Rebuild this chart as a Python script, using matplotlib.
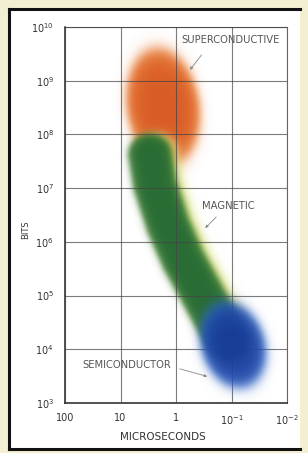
import numpy as np
import matplotlib
matplotlib.use("Agg")
import matplotlib.pyplot as plt
from matplotlib.colors import to_rgb
from matplotlib.lines import Line2D
from matplotlib.patches import Rectangle

plt.rcParams['font.family'] = ['DejaVu Sans']
plt.rcParams['mathtext.default'] = 'regular'

# tick values (log10 of microseconds and of bits)
time_ticks = [2, 1, 0, -1, -2]
time_labels = ["100", "10", "1", "$10^{-1}$", "$10^{-2}$"]
bits_ticks = [3, 4, 5, 6, 7, 8, 9, 10]
bits_labels = ["$10^{%d}$" % b for b in bits_ticks]

# elliptical regions: superconductive, semiconductor
blob_names = ["SUPERCONDUCTIVE", "SEMICONDUCTOR"]
blob_center_us = [1.7, 0.093]
blob_center_bits = [3.3e8, 1.2e4]
blob_half_decades_time = [0.66, 0.58]
blob_half_decades_bits = [1.1, 0.82]
blob_tilt_deg = [8, 16]
blob_inner = ["#d8551c", "#173c9c"]
blob_edge = ["#e8782f", "#2f62c4"]

# magnetic memory band (centre line)
magnetic_us = [2.94, 2.39, 1.39, 0.74, 0.37, 0.19, 0.12]
magnetic_bits = [4.2e7, 1.15e7, 2.05e6, 4.6e5, 1.26e5, 3.5e4, 1.5e4]
magnetic_half_width = 0.40  # decades
magnetic_inner = "#216832"
magnetic_edge = "#c9d65e"

fig = plt.figure(figsize=(3.08, 4.53), dpi=100)
fig.patch.set_facecolor("#f3efd3")

# white panel with black border (left, top, bottom)
fig.add_artist(Rectangle((9 / 308, 1 - 449 / 453), 291 / 308, 440 / 453,
                         transform=fig.transFigure, facecolor="white",
                         edgecolor="none", zorder=0))
bw = 2.2
fig.add_artist(Line2D([9 / 308, 300 / 308], [1 - 9 / 453] * 2, color="#111", lw=bw))
fig.add_artist(Line2D([9 / 308, 300 / 308], [1 - 449 / 453] * 2, color="#111", lw=bw))
fig.add_artist(Line2D([9 / 308] * 2, [1 - 9 / 453, 1 - 449 / 453], color="#111", lw=bw))

ax = fig.add_axes([65 / 308, 1 - 403 / 453, 222 / 308, 376 / 453])
ax.set_facecolor("none")

# sampling grid in log space
gx = np.linspace(-2, 2, 500)
gy = np.linspace(3, 10, 900)
X, Y = np.meshgrid(gx, gy)


def shade(d, inner, edge, soft=0.07, amax=0.96):
    a = amax / (1 + np.exp((d - 1) / soft))
    t = np.clip(d, 0, 1) ** 3
    ci, ce = np.array(to_rgb(inner)), np.array(to_rgb(edge))
    rgb = ci[None, None, :] * (1 - t[..., None]) + ce[None, None, :] * t[..., None]
    return np.dstack([rgb, a])


def ellipse_dist(i):
    cx, cy = np.log10(blob_center_us[i]), np.log10(blob_center_bits[i])
    dxs = -(X - cx)
    dys = Y - cy
    th = np.radians(blob_tilt_deg[i])
    pmaj = -dxs * np.sin(th) + dys * np.cos(th)
    pmin = dxs * np.cos(th) + dys * np.sin(th)
    return np.sqrt((pmaj / blob_half_decades_bits[i]) ** 2 +
                   (pmin / blob_half_decades_time[i]) ** 2)


def band_dist(shift=0.0):
    px, py = np.log10(magnetic_us) - shift, np.log10(magnetic_bits)
    dmin = np.full(X.shape, np.inf)
    for k in range(len(px) - 1):
        ax_, ay_ = px[k], py[k]
        bx_, by_ = px[k + 1], py[k + 1]
        vx, vy = bx_ - ax_, by_ - ay_
        t = ((X - ax_) * vx + (Y - ay_) * vy) / (vx * vx + vy * vy)
        t = np.clip(t, 0, 1)
        d = np.hypot(X - (ax_ + t * vx), Y - (ay_ + t * vy))
        dmin = np.minimum(dmin, d)
    return dmin / magnetic_half_width


ext = (-2, 2, 3, 10)
kw = dict(extent=ext, origin="lower", aspect="auto", interpolation="bilinear")
ax.imshow(shade(ellipse_dist(0), blob_inner[0], blob_edge[0]), zorder=1, **kw)
# yellow fringe on the right of the magnetic band
ax.imshow(shade(band_dist(0.12), magnetic_edge, "#e4e890", soft=0.12, amax=0.8),
          zorder=2, **kw)
ax.imshow(shade(band_dist(), magnetic_inner, "#3f7e36", soft=0.08), zorder=2, **kw)
ax.imshow(shade(ellipse_dist(1), blob_inner[1], blob_edge[1], soft=0.08), zorder=3, **kw)

ax.set_xlim(2, -2)
ax.set_ylim(3, 10)
ax.set_xticks(time_ticks)
ax.set_xticklabels(time_labels)
ax.set_yticks(bits_ticks)
ax.set_yticklabels(bits_labels)
ax.tick_params(length=0, labelsize=7, labelcolor="#333")
ax.tick_params(axis="x", pad=7)
ax.tick_params(axis="y", pad=8)
ax.grid(True, color="#444", lw=0.8, alpha=0.7, zorder=4)
ax.set_axisbelow(False)
for s in ["top", "right"]:
    ax.spines[s].set_color("#666")
    ax.spines[s].set_linewidth(0.8)
for s in ["left", "bottom"]:
    ax.spines[s].set_color("#222")
    ax.spines[s].set_linewidth(1.1)

ax.set_xlabel("MICROSECONDS", fontsize=7.5, color="#333")
ax.xaxis.set_label_coords((163 - 65) / 222, -(432 - 403) / 376)
ax.set_ylabel("BITS", fontsize=6, color="#333")
ax.yaxis.set_label_coords(-(65 - 30) / 222, (403 - 230) / 376)

lab = dict(fontsize=7.2, color="#555", va="center", ha="left", zorder=6)
arr = dict(arrowstyle="-|>", color="#888", lw=0.6, mutation_scale=4)
ax.text(-0.09, 9.76, "SUPERCONDUCTIVE", **lab)
ax.annotate("", xy=(-0.22, 9.16), xytext=(-0.49, 9.52), arrowprops=arr, zorder=6)
ax.text(-0.47, 6.67, "MAGNETIC", **lab)
ax.annotate("", xy=(-0.49, 6.22), xytext=(-0.76, 6.50), arrowprops=arr, zorder=6)
ax.text(1.68, 3.71, "SEMICONDUCTOR", **lab)
ax.annotate("", xy=(-0.61, 3.48), xytext=(-0.02, 3.65), arrowprops=arr, zorder=6)

fig.savefig("out.png", dpi=100, facecolor=fig.get_facecolor())
